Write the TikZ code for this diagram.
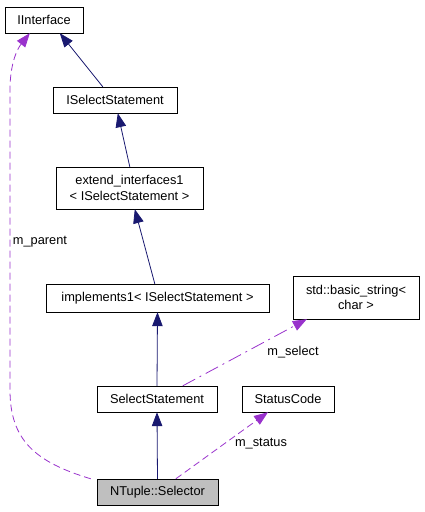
\documentclass[tikz,border=0pt]{standalone}
\usepackage{fontspec}
\setmainfont{Liberation Sans}
\usetikzlibrary{arrows.meta}
\definecolor{navy}{RGB}{25,25,112}
\definecolor{orchid}{RGB}{153,50,204}
\tikzset{
    cls/.style={draw=black, fill=white, inner sep=0pt, font=\fontsize{12.8}{15.5}\selectfont, align=center},
    inh/.style={draw=navy, line width=0.8pt, -{Triangle[length=14pt, width=10.5pt, fill=navy]}},
    usg/.style={draw=orchid, line width=0.8pt, dash pattern=on 7pt off 4pt, -{Triangle[length=14pt, width=10.5pt, fill=orchid]}},
    lbl/.style={font=\fontsize{12.8}{15.5}\selectfont, inner sep=0pt}
}
\begin{document}
\begin{tikzpicture}[x=1pt, y=-1pt]
            \useasboundingbox (0,0) rectangle (424,512);
            \node [cls, minimum width=78pt, minimum height=26pt] (0) at (44, 20) {IInterface};
            \node [cls, minimum width=124pt, minimum height=26pt] (1) at (115, 100) {ISelectStatement};
            \node [cls, minimum width=147pt, minimum height=42pt] (2) at (129.5, 188) {extend\_interfaces1\\< ISelectStatement >};
            \node [cls, minimum width=223pt, minimum height=28pt] (3) at (157.5, 298) {implements1< ISelectStatement >};
            \node [cls, minimum width=126pt, minimum height=43pt] (4) at (356, 297.5) {std::basic\_string<\\char >};
            \node [cls, minimum width=120pt, minimum height=26pt] (5) at (157, 399) {SelectStatement};
            \node [cls, minimum width=92pt, minimum height=26pt] (6) at (288, 399) {StatusCode};
            \node [cls, fill=black!25, minimum width=121pt, minimum height=26pt] (7) at (157.5, 492) {NTuple::Selector};
            \node [lbl] (8) at (40, 242) {m\_parent};
            \node [lbl] (9) at (293, 352) {m\_select};
            \node [lbl] (10) at (261, 444) {m\_status};
            \draw [inh] ([xshift=50pt]1.north west) to ([xshift=55pt]0.south west);
            \draw [inh] ([xshift=74pt]2.north west) to ([xshift=65pt]1.south west);
            \draw [inh] ([xshift=109pt]3.north west) to ([xshift=79pt]2.south west);
            \draw [inh] (5.north) to (3.south);
            \draw [inh] (7.north) to (5.south);
            \draw [usg, dash pattern=on 14pt off 5pt on 2pt off 5pt] ([xshift=86pt]5.north west) to ([xshift=14pt]4.south west);
            \draw [usg] ([xshift=79pt]7.north west) to ([xshift=-20pt]6.south);
            \draw [usg] ([xshift=-6pt]7.north west) .. controls (35, 462) and (10, 440) .. (10, 390)
                to (10, 90) .. controls (10, 62) and (18, 48) .. ([xshift=25pt]0.south west);
    \end{tikzpicture}
\end{document}
